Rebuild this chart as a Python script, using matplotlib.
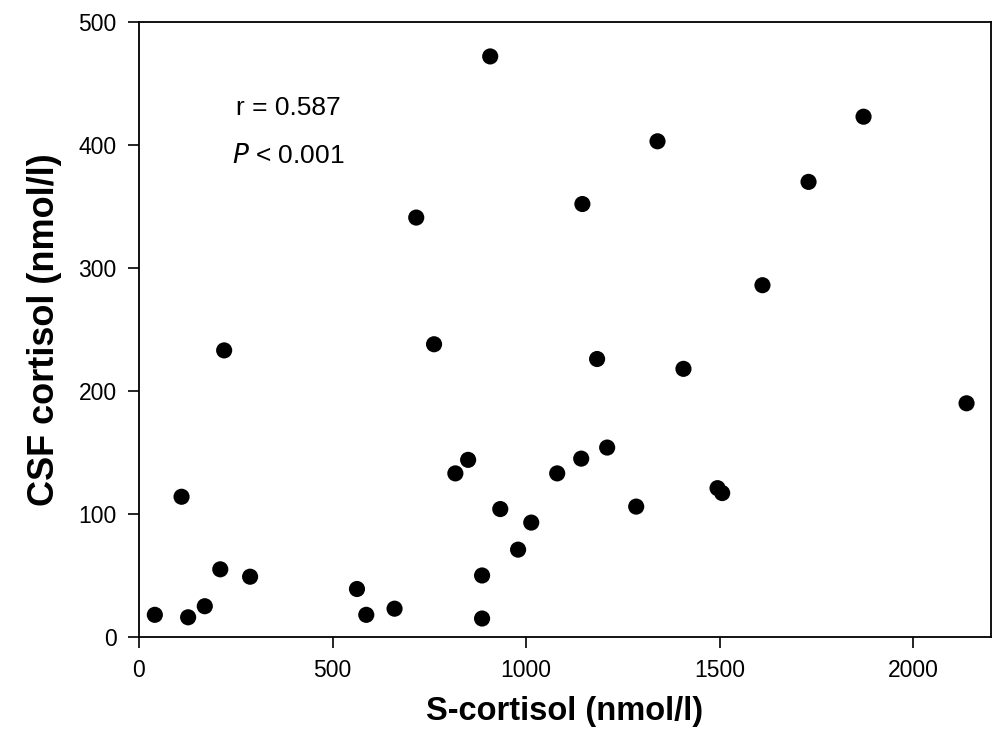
import matplotlib.pyplot as plt

# S-cortisol vs CSF cortisol (nmol/l)
s_cortisol = [41, 110, 127, 170, 210, 220, 287, 563, 587, 660,
              716, 762, 817, 850, 886, 886, 907, 933, 979, 1013,
              1080, 1145, 1142, 1183, 1209, 1284, 1339, 1406, 1494, 1506,
              1610, 1729, 1871, 2137]
csf_cortisol = [18, 114, 16, 25, 55, 233, 49, 39, 18, 23,
                341, 238, 133, 144, 15, 50, 472, 104, 71, 93,
                133, 352, 145, 226, 154, 106, 403, 218, 121, 117,
                286, 370, 423, 190]

plt.rcParams['font.family'] = ['Liberation Sans', 'DejaVu Sans']

fig = plt.figure(figsize=(10.04, 7.43), dpi=100)
ax = fig.add_axes([0.1384, 0.1427, 0.8486, 0.8277])

ax.scatter(s_cortisol, csf_cortisol, s=135, color='black', edgecolors='none', zorder=3)

ax.set_xlim(0, 2200)
ax.set_ylim(0, 500)
ax.set_xticks([0, 500, 1000, 1500, 2000])
ax.set_yticks([0, 100, 200, 300, 400, 500])
ax.tick_params(direction='out', length=8, width=1.2, labelsize=16.5, pad=8)
for sp in ax.spines.values():
    sp.set_linewidth(1.3)

ax.set_xlabel('S-cortisol (nmol/l)', fontsize=23.5, fontweight='bold', labelpad=10)
ax.set_ylabel('CSF cortisol (nmol/l)', fontsize=26, fontweight='bold', labelpad=12)

ax.text(385, 430, 'r = 0.587', fontsize=19, ha='center', va='center')
ax.text(385, 391, r'$\it{P}$ < 0.001', fontsize=19, ha='center', va='center')

fig.savefig('out.png', dpi=100)
